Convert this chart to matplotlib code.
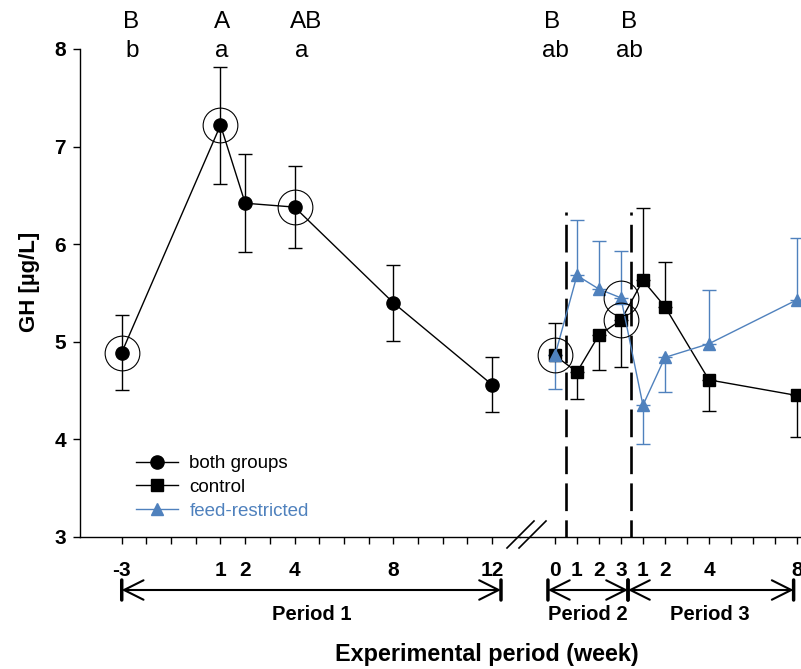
import matplotlib
matplotlib.use("Agg")
import matplotlib.pyplot as plt
from matplotlib.lines import Line2D

plt.rcParams["font.family"] = ["Liberation Sans", "DejaVu Sans"]

BLUE = "#4F81BD"
W, H = 801, 669

# period 1: both groups
p1_weeks = [-3, 1, 2, 4, 8, 12]
p1_mean = [4.89, 7.22, 6.42, 6.38, 5.40, 4.56]
p1_err = [0.38, 0.60, 0.50, 0.42, 0.39, 0.28]
p1_circled = [True, True, False, True, False, False]

# periods 2 and 3: (period, week)
p23_period = [2, 2, 2, 2, 3, 3, 3, 3]
p23_weeks = [0, 1, 2, 3, 1, 2, 4, 8]
ctrl_mean = [4.86, 4.69, 5.07, 5.22, 5.63, 5.36, 4.61, 4.45]
ctrl_err = [0.33, 0.28, 0.36, 0.48, 0.74, 0.46, 0.32, 0.43]
ctrl_dir = ["up", "down", "down", "down", "up", "up", "down", "down"]
fr_mean = [4.86, 5.68, 5.54, 5.45, 4.35, 4.84, 4.98, 5.43]
fr_err = [0.34, 0.57, 0.49, 0.48, 0.40, 0.35, 0.55, 0.63]
fr_dir = ["down", "up", "up", "up", "down", "down", "up", "up"]
ctrl_circled = [True, False, False, True, False, False, False, False]
fr_circled = [False, False, False, True, False, False, False, False]

p1_ticks = list(range(-3, 13))
p1_labels = ["-3", "", "", "", "1", "2", "", "4", "", "", "", "8", "", "", "", "12"]
p23_tick_labels = ["0", "1", "2", "3", "1", "2", "", "4", "", "", "", "8"]

letters_upper = ["B", "A", "AB", "B", "B"]
letters_lower = ["b", "a", "a", "ab", "ab"]


def p23_pos(period, week):
    # period 2 weeks 0-3 sit at 0-3, period 3 continues after them
    return week if period == 2 else 3 + week


fig = plt.figure(figsize=(W / 100, H / 100), dpi=100)
ax1 = fig.add_axes([80 / W, 132 / H, 440 / W, 488 / H])
ax2 = fig.add_axes([520 / W, 132 / H, 280 / W, 488 / H], sharey=ax1)

for ax in (ax1, ax2):
    ax.set_ylim(3, 8)
    ax.patch.set_visible(False)
    for s in ("top", "right"):
        ax.spines[s].set_visible(False)
    ax.spines["bottom"].set_linewidth(1.0)
    ax.tick_params(axis="x", direction="out", length=5, width=1, pad=12)

ax1.set_xlim(-4.69, 13.13)
ax2.set_xlim(-1.59, 11.14)
ax2.spines["left"].set_visible(False)
ax2.tick_params(axis="y", left=False, labelleft=False)
ax1.spines["left"].set_linewidth(1.0)
ax1.set_yticks([3, 4, 5, 6, 7, 8])
ax1.tick_params(axis="y", direction="out", length=5, width=1, pad=5,
                labelsize=15)
for lab in ax1.get_yticklabels():
    lab.set_fontweight("bold")

ax1.set_xticks(p1_ticks, labels=p1_labels, fontweight="bold", fontsize=15)
ax2.set_xticks(range(12), labels=p23_tick_labels, fontweight="bold", fontsize=15)

# period 1
ax1.errorbar(p1_weeks, p1_mean, yerr=p1_err, fmt="none", ecolor="black",
             elinewidth=1, capsize=5, capthick=1, zorder=2)
ax1.plot(p1_weeks, p1_mean, "-o", color="black", lw=1, ms=9.5, zorder=3)
cx = [w for w, c in zip(p1_weeks, p1_circled) if c]
cy = [m for m, c in zip(p1_mean, p1_circled) if c]
ax1.plot(cx, cy, "o", ms=25, mfc="none", mec="black", mew=0.8, zorder=4)

# periods 2 and 3
xpos = [p23_pos(p, w) for p, w in zip(p23_period, p23_weeks)]


def one_sided(ax, x, mean, err, direction, color):
    for d in ("up", "down"):
        xs = [xi for xi, di in zip(x, direction) if di == d]
        ys = [mi for mi, di in zip(mean, direction) if di == d]
        es = [ei for ei, di in zip(err, direction) if di == d]
        zeros = [0] * len(es)
        yerr = [zeros, es] if d == "up" else [es, zeros]
        ax.errorbar(xs, ys, yerr=yerr, fmt="none", ecolor=color, elinewidth=1,
                    capsize=5, capthick=1, zorder=2, clip_on=False)


one_sided(ax2, xpos, ctrl_mean, ctrl_err, ctrl_dir, "black")
one_sided(ax2, xpos, fr_mean, fr_err, fr_dir, BLUE)
ax2.plot(xpos, ctrl_mean, "-s", color="black", lw=1, ms=8, zorder=3,
         clip_on=False)
ax2.plot(xpos, fr_mean, "-^", color=BLUE, lw=1, ms=9, zorder=3.5,
         clip_on=False)
for mean, circ in ((ctrl_mean, ctrl_circled), (fr_mean, fr_circled)):
    ax2.plot([x for x, c in zip(xpos, circ) if c],
             [m for m, c in zip(mean, circ) if c],
             "o", ms=25, mfc="none", mec="black", mew=0.8, zorder=4)

# period boundaries
for xb in (0.5, 3.45):
    ax2.plot([xb, xb], [3, 6.33], color="black", lw=1.9,
             linestyle=(4, (10.5, 3.5)), zorder=1)

# significance letters
letter_x = [(ax1, -3), (ax1, 1), (ax1, 4), (ax2, 0), (ax2, 3)]
up_off = [9, 2, 12, -3, 8]
lo_off = [10, 1, 7, 0, 8]
for (ax, xv), u, l, du, dl in zip(letter_x, letters_upper, letters_lower,
                                   up_off, lo_off):
    ax.annotate(u, xy=(xv, H - 28), xycoords=("data", "figure pixels"),
                xytext=(du * 0.72, 0), textcoords="offset points",
                ha="center", va="baseline", fontsize=17.5)
    ax.annotate(l, xy=(xv, H - 57), xycoords=("data", "figure pixels"),
                xytext=(dl * 0.72, 0), textcoords="offset points",
                ha="center", va="baseline", fontsize=17.5)

# period arrows below the axis
arrow_y = H - 590
for ax, x0, x1, label, lx in ((ax1, -3, 12.36, "Period 1", 4.7),
                              (ax2, -0.32, 3.32, "Period 2", 1.5),
                              (ax2, 3.32, 10.85, "Period 3", 7.05)):
    ax.annotate("", xy=(x1, arrow_y), xytext=(x0, arrow_y),
                xycoords=("data", "figure pixels"),
                arrowprops=dict(arrowstyle="<->,head_length=0.7,head_width=0.35",
                                lw=1.5, color="black", shrinkA=0, shrinkB=0,
                                mutation_scale=20))
    for xe in (x0, x1):
        ax.annotate("", xy=(xe, arrow_y - 10), xytext=(xe, arrow_y + 10),
                    xycoords=("data", "figure pixels"),
                    arrowprops=dict(arrowstyle="-", lw=2.5, color="black",
                                    shrinkA=0, shrinkB=0))
    ax.annotate(label, xy=(lx, H - 614), xycoords=("data", "figure pixels"),
                ha="center", va="center", fontsize=14.5, fontweight="bold")

# axis break marks
for x0 in (507, 519):
    fig.add_artist(Line2D([x0 / W, (x0 + 27) / W], [121 / H, 148 / H],
                          color="black", lw=1.2))

fig.text(30 / W, (H - 282) / H, "GH [µg/L]", rotation=90, ha="center",
         va="center", fontsize=16, fontweight="bold")
fig.text(487 / W, (H - 655) / H, "Experimental period (week)", ha="center",
         va="center", fontsize=16.8, fontweight="bold")

handles = [
    Line2D([], [], color="black", lw=1, marker="o", ms=9.5),
    Line2D([], [], color="black", lw=1, marker="s", ms=8),
    Line2D([], [], color=BLUE, lw=1, marker="^", ms=9),
]
leg = ax1.legend(handles, ["both groups", "control", "feed-restricted"],
                 loc="upper left", bbox_to_anchor=(136 / W, (H - 455) / H),
                 bbox_transform=fig.transFigure, frameon=False, fontsize=13.5,
                 handlelength=2.25, handletextpad=0.6, labelspacing=0.36,
                 borderpad=0, borderaxespad=0)
leg.get_texts()[2].set_color(BLUE)

fig.savefig("out.png", dpi=100)
